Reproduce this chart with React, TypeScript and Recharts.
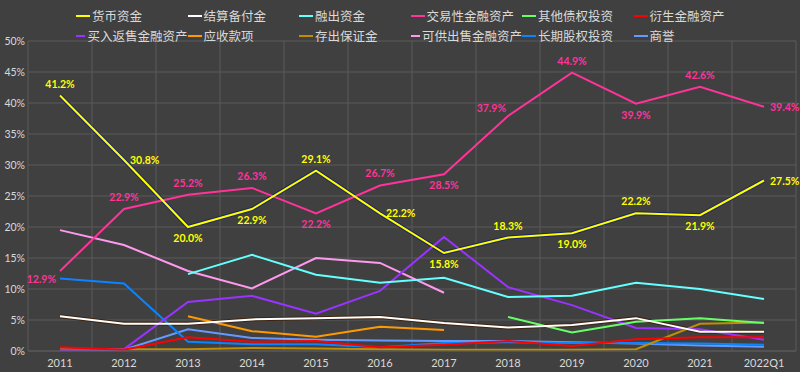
import React from 'react';
import { LineChart, Line, XAxis, YAxis, CartesianGrid, LabelList } from 'recharts';

// categories
const periods = ['2011', '2012', '2013', '2014', '2015', '2016', '2017', '2018', '2019', '2020', '2021', '2022Q1'];

// series values (% of total assets)
const cash = [41.2, 30.8, 20.0, 22.9, 29.1, 22.2, 15.8, 18.3, 19.0, 22.2, 21.9, 27.5];
const settlement = [5.6, 4.4, 4.4, 5.1, 5.3, 5.5, 4.5, 3.8, 4.2, 5.3, 3.1, 3.1];
const marginLoans = [null, null, 12.4, 15.5, 12.3, 11.0, 11.8, 8.7, 8.9, 11.0, 10.0, 8.4];
const tradingAssets = [12.9, 22.9, 25.2, 26.3, 22.2, 26.7, 28.5, 37.9, 44.9, 39.9, 42.6, 39.4];
const otherDebtInv = [null, null, null, null, null, null, null, 5.5, 3.0, 4.7, 5.3, 4.5];
const derivatives = [0.6, 0.2, 2.2, 1.5, 1.6, 0.6, 1.0, 1.6, 0.8, 1.9, 2.2, 2.2];
const reverseRepo = [0.2, 0.3, 7.9, 8.9, 6.0, 9.7, 18.4, 10.3, 7.4, 3.7, 3.5, 1.8];
const receivables = [null, null, 5.6, 3.2, 2.3, 3.9, 3.4, null, null, null, null, null];
const deposits = [0.3, 0.3, 0.3, 0.5, 0.4, 0.3, 0.2, 0.2, 0.2, 0.3, 4.4, 4.6];
const availableForSale = [19.5, 17.1, 12.9, 10.1, 15.0, 14.2, 9.4, null, null, null, null, null];
const equityInv = [11.7, 10.9, 1.5, 1.1, 1.1, 0.6, 1.3, 1.4, 1.3, 1.3, 1.2, 1.0];
const goodwill = [0.2, 0.2, 3.5, 2.1, 1.8, 1.7, 1.6, 1.6, 1.4, 1.2, 0.9, 0.7];

const yTicks = [0, 5, 10, 15, 20, 25, 30, 35, 40, 45, 50];

const series = [
  { key: 'cash', name: '货币资金', color: '#FFFF00', values: cash },
  { key: 'settlement', name: '结算备付金', color: '#FFFFFF', values: settlement },
  { key: 'marginLoans', name: '融出资金', color: '#66FFFF', values: marginLoans },
  { key: 'tradingAssets', name: '交易性金融资产', color: '#FF3399', values: tradingAssets },
  { key: 'otherDebtInv', name: '其他债权投资', color: '#66FF66', values: otherDebtInv },
  { key: 'derivatives', name: '衍生金融资产', color: '#FF0000', values: derivatives },
  { key: 'reverseRepo', name: '买入返售金融资产', color: '#9933FF', values: reverseRepo },
  { key: 'receivables', name: '应收款项', color: '#FF9900', values: receivables },
  { key: 'deposits', name: '存出保证金', color: '#BF8F00', values: deposits },
  { key: 'availableForSale', name: '可供出售金融资产', color: '#FF99EE', values: availableForSale },
  { key: 'equityInv', name: '长期股权投资', color: '#0A84FF', values: equityInv },
  { key: 'goodwill', name: '商誉', color: '#6699FF', values: goodwill },
];

const data = periods.map((p, i) => {
  const row: Record<string, unknown> = { name: p };
  series.forEach((s) => { row[s.key] = s.values[i]; });
  return row;
});

// where each data label sits relative to its point
const cashLabelPos = ['top', 'right', 'bottom', 'bottom', 'top', 'right', 'bottom', 'top', 'bottom', 'top', 'bottom', 'right'];
const tradingLabelPos = ['left', 'top', 'top', 'top', 'bottom', 'top', 'bottom', 'upleft', 'top', 'bottom', 'top', 'right'];

const font = 'Lato, "Liberation Sans", sans-serif';

const makeLabel = (positions: string[], color: string) => (props: any) => {
  const { x, y, value, index } = props;
  if (value == null) return null;
  const pos = positions[index];
  let lx = x, ly = y, anchor: 'middle' | 'start' | 'end' = 'middle';
  if (pos === 'top') ly = y - 8;
  if (pos === 'bottom') ly = y + 15;
  if (pos === 'right') { lx = x + 6; ly = y + 4; anchor = 'start'; }
  if (pos === 'left') { lx = x - 4; ly = y + 12; anchor = 'end'; }
  if (pos === 'upleft') { lx = x - 2; ly = y - 4; anchor = 'end'; }
  return (
    <text x={lx} y={ly} fill={color} fontSize={10.5} fontWeight="bold" fontFamily={font} textAnchor={anchor}>
      {`${Number(value).toFixed(1)}%`}
    </text>
  );
};

const LegendBox = () => (
  <div style={{ position: 'absolute', top: 6, left: 76, width: 672, display: 'grid', gridTemplateColumns: 'repeat(6, 111.5px)', rowGap: 1 }}>
    {series.map((s) => (
      <div key={s.key} style={{ display: 'flex', alignItems: 'center', height: 19 }}>
        <span style={{ display: 'inline-block', width: 14, height: 2, background: s.color, marginRight: 2 }} />
        <span style={{ color: '#D9D9D9', fontSize: 12.5, fontFamily: '"Noto Sans CJK SC", sans-serif', whiteSpace: 'nowrap' }}>{s.name}</span>
      </div>
    ))}
  </div>
);

// vertical grid lines sit between categories
const betweenCategories = ({ offset }: any) =>
  periods.map((_, i) => offset.left + (offset.width / periods.length) * (i + 1)).concat([offset.left]);

export default function App() {
  return (
    <div style={{ position: 'absolute', top: 0, left: 0, width: 800, height: 372, background: '#404040' }}>
      <LineChart width={800} height={372} data={data} margin={{ top: 41, right: 4, left: 0, bottom: 0 }}>
        <CartesianGrid stroke="#5A5A5A" strokeWidth={1} verticalCoordinatesGenerator={betweenCategories} />
        <XAxis
          dataKey="name"
          axisLine={{ stroke: '#5A5A5A' }}
          tickLine={false}
          height={21}
          interval={0}
          padding={{ left: 32, right: 32 }}
          tick={{ fontSize: 11, fill: '#D9D9D9', fontFamily: font }}
          tickMargin={2}
        />
        <YAxis
          domain={[0, 50]}
          ticks={yTicks}
          width={28}
          axisLine={false}
          tickLine={false}
          tickSize={0}
          tickFormatter={(v: number) => `${v}%`}
          tick={{ fontSize: 10.5, fill: '#D9D9D9', fontFamily: font }}
          tickMargin={3}
        />
        {/* dark outlines under yellow and white lines */}
        <Line dataKey="cash" stroke="#1A2566" strokeWidth={4} dot={false} isAnimationActive={false} legendType="none" />
        <Line dataKey="settlement" stroke="#3E2410" strokeWidth={4} dot={false} isAnimationActive={false} legendType="none" />
        {series.slice().reverse().map((s) => (
          <Line
            key={s.key}
            dataKey={s.key}
            name={s.name}
            stroke={s.color}
            strokeWidth={2}
            dot={false}
            isAnimationActive={false}
          >
            {s.key === 'cash' && <LabelList dataKey="cash" content={makeLabel(cashLabelPos, '#FFFF00')} />}
            {s.key === 'tradingAssets' && <LabelList dataKey="tradingAssets" content={makeLabel(tradingLabelPos, '#FF3399')} />}
          </Line>
        ))}
      </LineChart>
      <LegendBox />
    </div>
  );
}
